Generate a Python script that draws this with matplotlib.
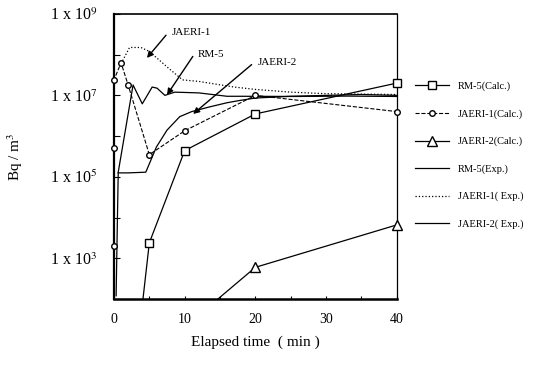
import numpy as np
import matplotlib
matplotlib.use("Agg")
import matplotlib.pyplot as plt

plt.rcParams['font.family'] = ['Liberation Serif', 'DejaVu Serif']
plt.rcParams['mathtext.fontset'] = 'stix'

# calculated values
rm5_calc_t = [4.1, 5, 10, 20, 40]
rm5_calc_v = [1e2, 2.4e3, 4.4e5, 3.5e6, 2.0e7]

jaeri1_calc_t = [0, 0, 0, 1, 2, 5, 10, 20, 40]
jaeri1_calc_v = [2e3, 5e5, 2.4e7, 6.3e7, 1.8e7, 3.5e5, 1.35e6, 1.0e7, 4.0e6]

jaeri2_calc_t = [14.7, 20, 40]
jaeri2_calc_v = [1e2, 6.0e2, 6.6e3]

# measured values
rm5_exp_t = [0.3, 0.6, 2.7, 4.0, 5.4, 6.1, 7.2, 8.6, 12, 16, 18, 26, 33, 40]
rm5_exp_v = [1.2e2, 1.3e5, 1.8e7, 6.2e6, 1.6e7, 1.5e7, 1.0e7, 1.2e7,
             1.15e7, 9.5e6, 9.5e6, 9.4e6, 9.6e6, 9.4e6]

jaeri1_exp_t = [1, 2.2, 3.8, 5, 7.5, 9.7, 12, 17, 20, 25, 30, 40]
jaeri1_exp_v = [6.0e7, 1.5e8, 1.5e8, 1.2e8, 5.0e7, 2.4e7, 2.2e7, 1.6e7,
                1.4e7, 1.2e7, 1.1e7, 1.05e7]

jaeri2_exp_t = [0.6, 2, 4.5, 6, 7.5, 9.3, 11, 13.5, 16, 17.8, 20, 25, 30, 35, 40]
jaeri2_exp_v = [1.25e5, 1.25e5, 1.3e5, 5.4e5, 1.4e6, 3.0e6, 4.0e6, 5.2e6,
                6.6e6, 7.5e6, 8.6e6, 9.5e6, 1.0e7, 1.05e7, 1.0e7]

xticks = [0, 10, 20, 30, 40]
yticks = [1e3, 1e5, 1e7, 1e9]
ytick_labels = ['1 x 10$^{3}$', '1 x 10$^{5}$', '1 x 10$^{7}$', '1 x 10$^{9}$']

fig = plt.figure(figsize=(5.48, 3.66), dpi=100)
ax = fig.add_axes([0.208, 0.183, 0.516, 0.779])

l1, = ax.plot(rm5_calc_t, rm5_calc_v, '-', color='black', lw=0.9, marker='s',
              ms=6, mfc='white', mec='black', markevery=list(range(1, len(rm5_calc_t))),
              clip_on=False, label='RM-5(Calc.)', zorder=4)
l2, = ax.plot(jaeri1_calc_t, jaeri1_calc_v, '--', color='black', lw=0.8, marker='o',
              ms=4, mfc='white', mec='black', clip_on=False, label='JAERI-1(Calc.)', zorder=4)
l3, = ax.plot(jaeri2_calc_t, jaeri2_calc_v, '-', color='black', lw=0.9, marker='^',
              ms=7, mfc='white', mec='black', markevery=[1, 2], clip_on=False,
              label='JAERI-2(Calc.)', zorder=4)
l4, = ax.plot(rm5_exp_t, rm5_exp_v, '-', color='black', lw=0.9, label='RM-5(Exp.)')
l5, = ax.plot(jaeri1_exp_t, jaeri1_exp_v, ':', color='black', lw=0.9, label='JAERI-1( Exp.)')
l6, = ax.plot(jaeri2_exp_t, jaeri2_exp_v, '-', color='black', lw=0.9, label='JAERI-2( Exp.)')

ax.set_yscale('log')
ax.set_xlim(0, 40)
ax.set_ylim(1e2, 1e9)
ax.set_xticks(xticks)
ax.set_yticks(yticks)
ax.set_yticklabels(ytick_labels, fontsize=11.5)
ax.set_xticklabels([str(t) for t in xticks], fontsize=10)
ax.yaxis.set_minor_locator(matplotlib.ticker.LogLocator(base=10, subs=[1.0], numticks=20))
ax.yaxis.set_minor_formatter(matplotlib.ticker.NullFormatter())
ax.xaxis.set_minor_locator(matplotlib.ticker.MultipleLocator(5))
ax.tick_params(axis='both', which='both', direction='in', top=False, right=False)
ax.tick_params(axis='y', which='both', length=4, width=0.8, pad=12)
ax.tick_params(axis='x', which='both', length=2, width=0.8, pad=10)
ax.spines['left'].set_linewidth(1.6)
ax.spines['bottom'].set_linewidth(1.8)
ax.spines['top'].set_linewidth(1.2)
ax.spines['right'].set_linewidth(0.9)

ax.set_xlabel('Elapsed time  ( min )', fontsize=11, labelpad=7)
ax.set_ylabel('Bq / m$^3$', fontsize=11, labelpad=18)

arrow = dict(arrowstyle='-|>', color='black', lw=1.0, mutation_scale=9,
             shrinkA=0, shrinkB=0)
ax.annotate('JAERI-1', xy=(4.66, 8.3e7), xytext=(8.2, 3.5e8), fontsize=8,
            va='center', ha='left', arrowprops=dict(arrow, relpos=(-0.15, 0.2)))
ax.annotate('RM-5', xy=(7.5, 1.03e7), xytext=(11.9, 1.0e8), fontsize=8,
            va='center', ha='left', arrowprops=dict(arrow, relpos=(-0.2, 0.3)))
ax.annotate('JAERI-2', xy=(11.2, 3.5e6), xytext=(20.3, 6.3e7), fontsize=8,
            va='center', ha='left', arrowprops=dict(arrow, relpos=(-0.15, 0.3)))

handles = [l1, l2, l3, l4, l5, l6]
fig.legend(handles=handles, loc='upper left', bbox_to_anchor=(0.75, 0.788),
           frameon=False, fontsize=7.5, handlelength=3.2, labelspacing=1.72,
           handletextpad=0.9, borderaxespad=0)

fig.savefig('out.png', dpi=100)
